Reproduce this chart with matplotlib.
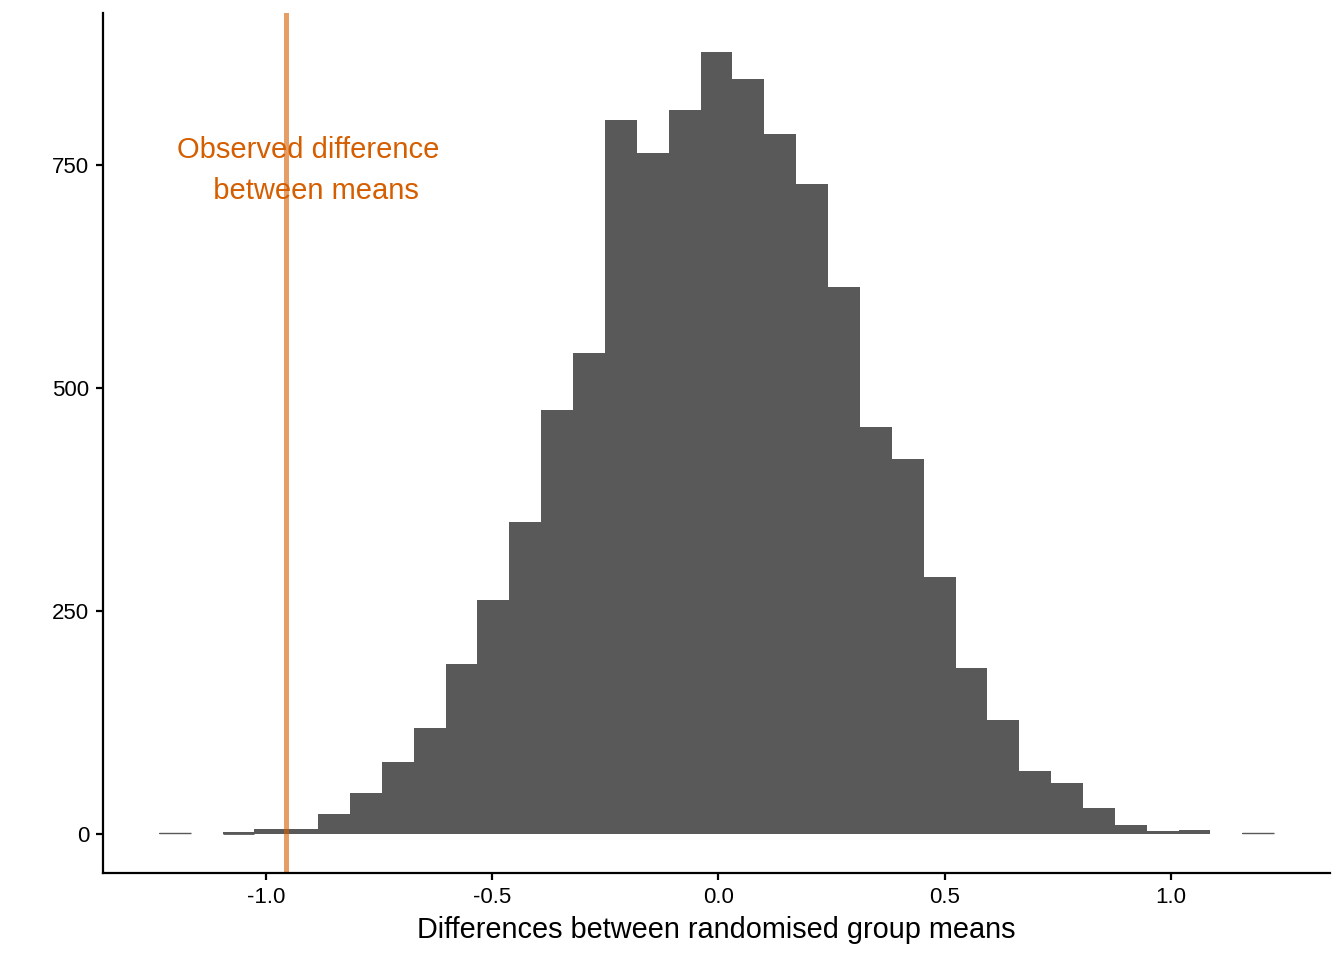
import numpy as np
import matplotlib.pyplot as plt

plt.rcParams['font.family'] = ['Liberation Sans', 'DejaVu Sans']

# histogram of randomised differences (35 bins, counts)
bin_left = -1.2366
bin_width = 0.07043
counts = [1, 0, 2, 6, 6, 22, 46, 81, 119, 191, 262, 350, 475, 539,
          801, 764, 812, 877, 847, 785, 729, 613, 457, 421, 288, 186,
          128, 71, 57, 29, 10, 3, 4, 0, 1]
observed_diff = -0.955
label_x, label_y = -0.907, 744

edges = bin_left + bin_width * np.arange(len(counts) + 1)

fig = plt.figure(figsize=(13.44, 9.6), dpi=100)
ax = fig.add_axes([103 / 1344, 1 - 873 / 960, (1330 - 103) / 1344, (873 - 13) / 960])

ax.bar(edges[:-1], counts, width=bin_width, align='edge', color='#595959', linewidth=0)
# tiny bins show up as hairlines in the original
for x0, c in zip(edges[:-1], counts):
    if 0 < c <= 2:
        ax.plot([x0, x0 + bin_width], [c / 2, c / 2], color='#595959',
                linewidth=max(c, 1), solid_capstyle='butt')

ax.axvline(observed_diff, color='#D55E00', alpha=0.6, linewidth=3.6)
ax.text(label_x, label_y, 'Observed difference\n  between means', color='#D55E00',
        fontsize=21, ha='center', va='center', multialignment='center', linespacing=1.62)

xmin, xmax = edges[0], edges[-1]
pad = (xmax - xmin) * 0.05
ax.set_xlim(xmin - pad, xmax + pad)
ymax = max(counts)
ax.set_ylim(-ymax * 0.05, ymax * 1.05)

ax.set_xticks([-1.0, -0.5, 0.0, 0.5, 1.0])
ax.set_xticklabels(['-1.0', '-0.5', '0.0', '0.5', '1.0'])
ax.set_yticks([0, 250, 500, 750])

for s in ['top', 'right']:
    ax.spines[s].set_visible(False)
for s in ['left', 'bottom']:
    ax.spines[s].set_linewidth(1.6)
ax.tick_params(width=1.6, length=5, labelsize=16, colors='black', pad=5)
ax.set_xlabel('Differences between randomised group means', fontsize=20.8, labelpad=6)

plt.savefig('out.png', dpi=100)
